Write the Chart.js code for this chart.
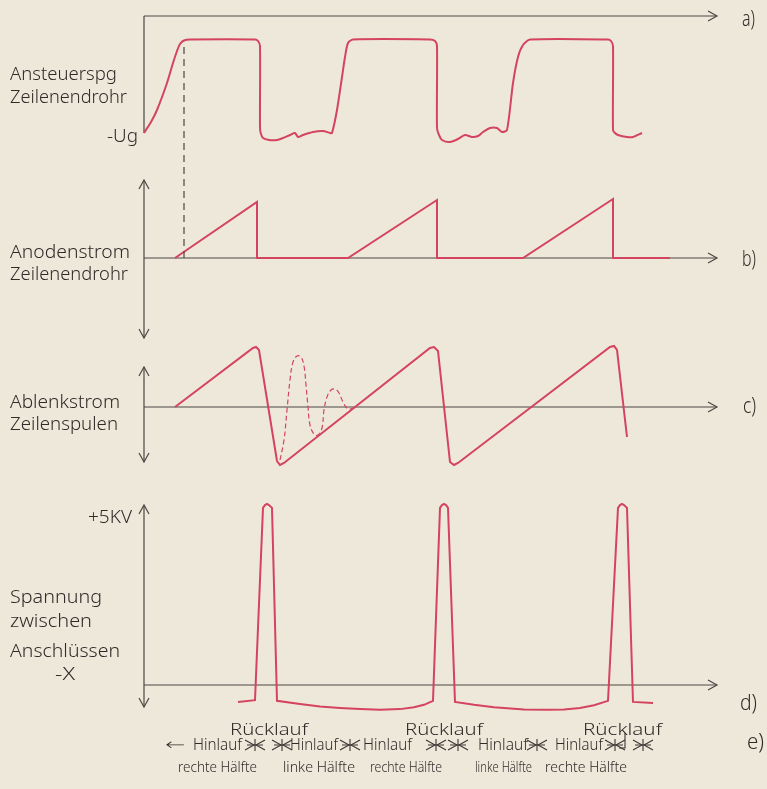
<!DOCTYPE html>
<html>
<head>
<meta charset="utf-8">
<script src="https://cdn.jsdelivr.net/npm/chart.js@4.4.1/dist/chart.umd.min.js"></script>
<style>
  html, body { margin: 0; padding: 0; }
  body { width: 767px; height: 789px; background: #eee8db; position: relative; overflow: hidden; }
  #chart { position: absolute; left: 0; top: 0; }
  .lbl {
    position: absolute;
    white-space: nowrap;
    font-family: "Noto Sans", "DejaVu Sans", sans-serif;
    font-weight: 300;
    color: #2e2b28;
    line-height: 1;
    transform-origin: 0 0;
  }
</style>
</head>
<body>
<canvas id="chart" width="767" height="789"></canvas>
<script>
// Zeitachse in willkürlichen Einheiten (0 = senkrechte Achse links)
// a) Ansteuerspannung Zeilenendröhre (0 = obere Linie, -117 = -Ug)
const tA = [0, 7, 13, 23, 29, 33, 36, 40, 46, 111, 114, 116, 116, 117, 119, 125, 133, 139, 146, 151, 154, 159, 169, 179, 186, 188,
  193, 198, 201, 204, 209, 286, 291, 293, 293, 295, 298, 306, 314, 321, 328, 334, 339, 346, 353, 358, 363,
  369, 374, 379, 386, 464, 467, 469, 469, 471, 474, 483, 489, 498];
const uA = [-117, -106, -94, -67, -47, -35, -28, -24.5, -23.5, -23.5, -25, -30, -112, -118, -122, -124, -124, -122, -119, -117, -121, -119, -116, -115, -117, -117,
  -94, -61, -41, -27, -23.5, -23.5, -25, -30, -112, -119, -124, -126, -123, -119, -121, -120, -116, -112, -112, -116, -114,
  -67, -41, -29, -23.5, -23.5, -25, -30, -114, -117, -119, -121, -121, -117];

// b) Anodenstrom Zeilenendröhre
const tB = [31, 113, 113, 204, 293, 293, 379, 469, 469, 526];
const iB = [0, 56, 0, 0, 58, 0, 0, 59, 0, 0];

// c) Ablenkstrom Zeilenspulen
const tC = [31, 109, 112, 115, 133, 136, 140, 286, 290, 294, 306, 310, 314, 466, 470, 473, 483];
const iC = [0, 59, 60, 57, -54, -58, -56, 59, 60, 56, -55, -58, -56, 60, 61, 57, -30];

// c) Einschwingen ohne Dämpfung (gestrichelt)
const tRing = [136, 140, 143, 146, 149, 153, 157, 160, 162, 164, 166, 170, 174, 178, 180, 183, 187, 191, 195, 199, 204, 209];
const iRing = [-53, -33, -3, 27, 45, 51, 50, 41, 22, 0, -18, -27, -28, -21, -3, 10, 17, 18, 14, 5, -2, -1];

// d) Spannung zwischen Anschlüssen (kV)
const tD = [94, 111, 119, 121, 123, 125, 128, 133, 156, 176, 196, 216, 236, 256, 270, 280, 289, 296, 298, 300, 302, 304, 311,
  330, 350, 380, 403, 420, 436, 450, 464, 474, 476, 478, 480, 483, 489, 509];
const uD = [-0.47, -0.42, 4.92, 5.0, 5.03, 5.0, 4.92, -0.44, -0.53, -0.6, -0.64, -0.67, -0.69, -0.67, -0.62, -0.55, -0.44, 4.92, 5.0, 5.03, 5.0, 4.92, -0.47,
  -0.55, -0.62, -0.68, -0.69, -0.68, -0.64, -0.56, -0.44, 4.92, 5.0, 5.03, 5.0, 4.92, -0.47, -0.5];

// Hilfslinie Einsatzpunkt Anodenstrom
const tMark = [40, 40];
const iMark = [0, 216];

// e) Grenzen Hinlauf / Rücklauf
const tBounds = [111, 138, 206, 292, 314, 393, 471, 499];

const RED = "#d4435f";
const INK = "#4a4744";

function pts(xs, ys) {
  return xs.map((x, i) => ({ x: x, y: ys[i] }));
}

// y-Achse: Nulllinie bei Pixel "zero", "ppu" Pixel pro Einheit
function yRange(zero, ppu) {
  return { display: false, min: (zero - 789) / ppu, max: zero / ppu };
}

const axes = [
  { id: "ya", h: [0, 573], v: [0, -117], arrowsV: false },
  { id: "yb", h: [0, 573], v: [78, -80], arrowsV: true },
  { id: "yc", h: [0, 573], v: [40, -55], arrowsV: true },
  { id: "yd", h: [0, 573], v: [5.0, -0.61], arrowsV: true },
];

function arrow(ctx, x, y, dx, dy) {
  const L = 9, W = 5;
  ctx.beginPath();
  ctx.moveTo(x - dx * L - dy * W, y - dy * L - dx * W);
  ctx.lineTo(x, y);
  ctx.lineTo(x - dx * L + dy * W, y - dy * L + dx * W);
  ctx.stroke();
}

const axisPlugin = {
  id: "axisPlugin",
  beforeDatasetsDraw(chart) {
    const ctx = chart.ctx;
    const sx = chart.scales.x;
    ctx.save();
    ctx.strokeStyle = INK;
    ctx.lineWidth = 1.2;
    axes.forEach((a) => {
      const sy = chart.scales[a.id];
      const y0 = sy.getPixelForValue(0);
      const x0 = sx.getPixelForValue(a.h[0]);
      const x1 = sx.getPixelForValue(a.h[1]);
      ctx.beginPath();
      ctx.moveTo(x0, y0);
      ctx.lineTo(x1, y0);
      ctx.stroke();
      arrow(ctx, x1, y0, 1, 0);
      const yt = sy.getPixelForValue(a.v[0]);
      const yb = sy.getPixelForValue(a.v[1]);
      ctx.beginPath();
      ctx.moveTo(x0, yt);
      ctx.lineTo(x0, yb);
      ctx.stroke();
      if (a.arrowsV) {
        arrow(ctx, x0, yt, 0, -1);
        arrow(ctx, x0, yb, 0, 1);
      }
    });

    // Grenzmarken in Zeile e)
    const ym = 745;
    ctx.lineWidth = 1.1;
    ctx.strokeStyle = "#3a3633";
    tBounds.forEach((t) => {
      const x = sx.getPixelForValue(t);
      ctx.beginPath();
      ctx.moveTo(x - 8, ym);
      ctx.lineTo(x + 8, ym);
      ctx.moveTo(x, ym - 6);
      ctx.lineTo(x, ym + 6);
      ctx.stroke();
      arrow(ctx, x - 1, ym, 1, 0);
      arrow(ctx, x + 1, ym, -1, 0);
    });
    const xr = sx.getPixelForValue(481);
    ctx.beginPath();
    ctx.moveTo(xr, 733);
    ctx.lineTo(xr, 748);
    ctx.lineTo(xr - 6, 748);
    ctx.stroke();
    ctx.restore();
  },
};

function line(data, axis, extra) {
  return Object.assign({
    data: data,
    yAxisID: axis,
    showLine: true,
    borderColor: RED,
    borderWidth: 2,
    pointRadius: 0,
    tension: 0,
    clip: false,
  }, extra || {});
}

new Chart(document.getElementById("chart"), {
  type: "scatter",
  data: {
    datasets: [
      line(pts(tMark, iMark), "yb", { borderColor: INK, borderWidth: 1.2, borderDash: [7, 5] }),
      line(pts(tA, uA), "ya", { tension: 0.25 }),
      line(pts(tB, iB), "yb"),
      line(pts(tRing, iRing), "yc", { borderWidth: 1.2, borderDash: [5, 3], tension: 0.4 }),
      line(pts(tC, iC), "yc"),
      line(pts(tD, uD), "yd"),
    ],
  },
  options: {
    responsive: false,
    animation: false,
    layout: { padding: { left: 144, right: 49, top: 0, bottom: 0 } },
    plugins: { legend: { display: false }, tooltip: { enabled: false } },
    scales: {
      x: { type: "linear", display: false, min: 0, max: 574 },
      ya: yRange(16, 1),
      yb: yRange(258, 1),
      yc: yRange(407, 1),
      yd: yRange(685, 36),
    },
  },
  plugins: [axisPlugin],
});

// Beschriftungen: Text, links, Grundlinie, Breite, Schriftgröße
const labels = [
  ["Ansteuerspg", 10, 80, 107, 18],
  ["Zeilenendrohr", 10, 103, 117, 18],
  ["-Ug", 107, 142, 31, 18],
  ["Anodenstrom", 10, 258, 120, 18],
  ["Zeilenendrohr", 10, 280, 118, 18],
  ["Ablenkstrom", 10, 408, 110, 18],
  ["Zeilenspulen", 10, 430, 108, 18],
  ["+5KV", 88, 523, 44, 18],
  ["Spannung", 10, 603, 92, 18],
  ["zwischen", 10, 627, 82, 18],
  ["Anschlüssen", 10, 657, 110, 18],
  ["-X", 55, 680, 20, 18],
  ["a)", 742, 27, 13, 21],
  ["b)", 742, 267, 14, 21],
  ["c)", 743, 414, 13, 21],
  ["d)", 740, 711, 17, 21],
  ["e)", 747, 750, 17, 21],
  ["Rücklauf", 230, 735, 78, 17],
  ["Rücklauf", 405, 735, 78, 17],
  ["Rücklauf", 583, 735, 79, 17],
  ["←", 165, 750, 20, 16],
  ["Hinlauf", 193, 750, 49, 16],
  ["Hinlauf", 290, 750, 48, 16],
  ["Hinlauf", 363, 750, 49, 16],
  ["Hinlauf", 478, 750, 50, 16],
  ["Hinlauf", 555, 750, 48, 16],
  ["rechte Hälfte", 178, 772, 79, 15],
  ["linke Hälfte", 283, 772, 72, 15],
  ["rechte Hälfte", 370, 772, 72, 15],
  ["linke Hälfte", 475, 772, 57, 15],
  ["rechte Hälfte", 545, 772, 82, 15],
];

labels.forEach(([text, x, base, w, size]) => {
  const d = document.createElement("div");
  d.className = "lbl";
  d.textContent = text;
  d.style.fontSize = size + "px";
  d.style.left = x + "px";
  d.style.top = (base - 0.89 * size) + "px";
  document.body.appendChild(d);
  const real = d.getBoundingClientRect().width;
  if (real > 0) d.style.transform = "scaleX(" + (w / real).toFixed(3) + ")";
});
</script>
</body>
</html>
